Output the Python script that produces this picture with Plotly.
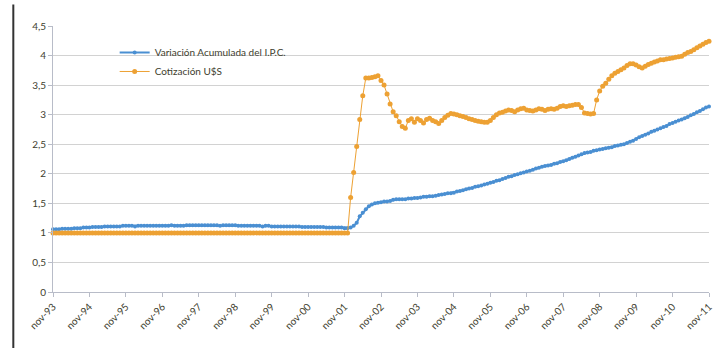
import plotly.graph_objects as go

tick_labels = ["nov-93", "nov-94", "nov-95", "nov-96", "nov-97", "nov-98", "nov-99", "nov-00",
               "nov-01", "nov-02", "nov-03", "nov-04", "nov-05", "nov-06", "nov-07", "nov-08",
               "nov-09", "nov-10", "nov-11"]

ipc = [
    1.06, 1.06, 1.06, 1.07, 1.07, 1.07, 1.07, 1.08, 1.08, 1.08, 1.09, 1.09,
    1.09, 1.10, 1.10, 1.10, 1.10, 1.11, 1.11, 1.11, 1.11, 1.11, 1.11, 1.12,
    1.12, 1.12, 1.12, 1.11, 1.12, 1.12, 1.12, 1.12, 1.12, 1.12, 1.12, 1.12,
    1.12, 1.12, 1.12, 1.13, 1.12, 1.12, 1.12, 1.12, 1.13, 1.13, 1.13, 1.13,
    1.13, 1.13, 1.13, 1.13, 1.13, 1.13, 1.13, 1.12, 1.13, 1.13, 1.13, 1.13,
    1.13, 1.12, 1.12, 1.12, 1.12, 1.12, 1.12, 1.12, 1.12, 1.11, 1.12, 1.12,
    1.11, 1.11, 1.11, 1.11, 1.11, 1.11, 1.11, 1.11, 1.11, 1.11, 1.10, 1.10,
    1.10, 1.10, 1.10, 1.10, 1.10, 1.10, 1.09, 1.09, 1.09, 1.09, 1.09, 1.09,
    1.08, 1.08, 1.09, 1.12, 1.17, 1.28, 1.34, 1.40, 1.45, 1.48, 1.50, 1.51,
    1.52, 1.53, 1.53, 1.54, 1.56, 1.57, 1.57, 1.57, 1.57, 1.58, 1.58, 1.59,
    1.59, 1.60, 1.61, 1.61, 1.62, 1.62, 1.63, 1.64, 1.65, 1.66, 1.67, 1.67,
    1.68, 1.70, 1.71, 1.72, 1.74, 1.75, 1.76, 1.78, 1.79, 1.80, 1.82, 1.83,
    1.85, 1.86, 1.88, 1.89, 1.91, 1.93, 1.95, 1.96, 1.98, 1.99, 2.01, 2.02,
    2.04, 2.05, 2.07, 2.09, 2.10, 2.12, 2.13, 2.14, 2.15, 2.17, 2.18, 2.20,
    2.21, 2.23, 2.25, 2.27, 2.29, 2.31, 2.33, 2.35, 2.36, 2.37, 2.39, 2.40,
    2.41, 2.42, 2.43, 2.44, 2.45, 2.47, 2.48, 2.49, 2.50, 2.52, 2.54, 2.56,
    2.59, 2.62, 2.64, 2.66, 2.68, 2.71, 2.73, 2.75, 2.77, 2.79, 2.81, 2.84,
    2.86, 2.88, 2.90, 2.92, 2.94, 2.96, 2.99, 3.01, 3.04, 3.06, 3.09, 3.12,
    3.14,
]

usd = [1.0] * 98 + [
    1.60, 2.02, 2.46, 2.92, 3.32, 3.62, 3.62, 3.63, 3.64, 3.66,
    3.58, 3.50, 3.35, 3.18, 3.05, 2.98, 2.88, 2.80, 2.77, 2.90, 2.93, 2.87,
    2.93, 2.90, 2.86, 2.92, 2.94, 2.90, 2.88, 2.85, 2.90, 2.95, 2.99, 3.02,
    3.01, 3.00, 2.98, 2.97, 2.95, 2.93, 2.92, 2.90, 2.89, 2.88, 2.87, 2.87,
    2.90, 2.95, 3.00, 3.03, 3.04, 3.06, 3.08, 3.07, 3.05, 3.08, 3.10, 3.11,
    3.08, 3.07, 3.06, 3.08, 3.10, 3.09, 3.07, 3.09, 3.10, 3.09, 3.11, 3.14,
    3.15, 3.14, 3.15, 3.16, 3.17, 3.17, 3.12, 3.03, 3.02, 3.01, 3.02, 3.25,
    3.40, 3.48, 3.53, 3.60, 3.66, 3.70, 3.73, 3.76, 3.79, 3.83, 3.86, 3.86,
    3.84, 3.81, 3.79, 3.82, 3.85, 3.87, 3.89, 3.91, 3.93, 3.93, 3.94, 3.95,
    3.96, 3.97, 3.98, 3.99, 4.02, 4.05, 4.07, 4.10, 4.13, 4.16, 4.19, 4.22,
    4.24,
]

months = list(range(len(ipc)))
tick_vals = [i * 12 for i in range(len(tick_labels))]

BLUE = "#4a8fd2"
ORANGE = "#eda133"
TXT = "#3e3e2e"

fig = go.Figure()
fig.add_trace(go.Scatter(
    x=months, y=ipc, mode="lines+markers", name="Variación Acumulada del I.P.C.",
    line=dict(color=BLUE, width=2), marker=dict(color=BLUE, size=4),
    cliponaxis=False,
))
fig.add_trace(go.Scatter(
    x=months[:len(usd)], y=usd, mode="lines+markers", name="Cotización U$S",
    line=dict(color=ORANGE, width=1), marker=dict(color=ORANGE, size=5),
    cliponaxis=False,
))

fig.update_layout(
    width=723, height=348,
    margin=dict(l=53, r=9, t=26, b=56),
    paper_bgcolor="white", plot_bgcolor="white",
    separators=", ",
    font=dict(family="Lato", size=10, color=TXT),
    showlegend=True,
    legend=dict(x=0.094, y=0.955, xanchor="left", yanchor="top",
                bgcolor="rgba(0,0,0,0)", font=dict(size=10, color=TXT),
                tracegroupgap=0, itemwidth=30),
    xaxis=dict(
        range=[0, 216], tickmode="array", tickvals=tick_vals, ticktext=tick_labels,
        tickangle=-45, showgrid=False, zeroline=False,
        showline=True, linecolor="#b8bcc8", linewidth=1,
        ticks="outside", ticklen=4, tickcolor="#b8bcc8",
        tickfont=dict(size=10, color=TXT),
    ),
    yaxis=dict(
        range=[0, 4.5], dtick=0.5, showgrid=True, gridcolor="#d2d2d2", gridwidth=1,
        zeroline=False, showline=True, linecolor="#b8bcc8", linewidth=1,
        ticks="outside", ticklen=4, tickcolor="#b8bcc8",
        tickfont=dict(size=10, color=TXT),
    ),
    shapes=[dict(type="line", xref="paper", yref="paper",
                 x0=-0.0605, x1=-0.0605, y0=1.081, y1=-0.22,
                 line=dict(color="#333333", width=2))],
)

fig.write_html("out.html")
